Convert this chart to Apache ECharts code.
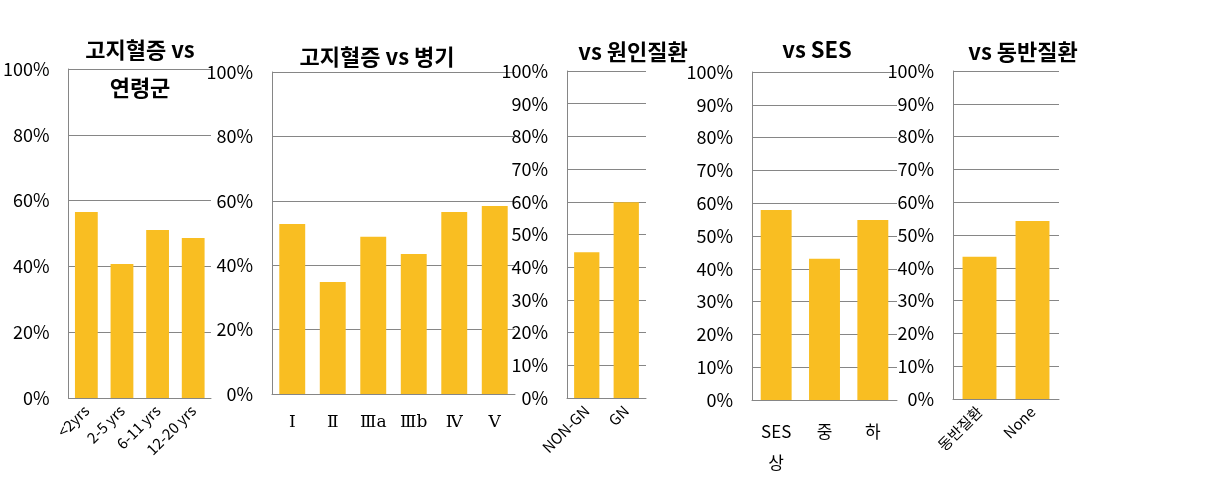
<!DOCTYPE html>
<html><head><meta charset="utf-8">
<script src="https://cdn.jsdelivr.net/npm/echarts@6/dist/echarts.min.js"></script>
<style>html,body{margin:0;padding:0;background:#fff}#c{width:1219px;height:487px}</style>
</head><body><div id="c"></div>
<script>
// Data
var ageCats = ['<2yrs', '2-5 yrs', '6-11 yrs', '12-20 yrs'];
var ageVals = [56.5, 40.7, 51.1, 48.6];
var stageCats = ['Ⅰ', 'Ⅱ', 'Ⅲa', 'Ⅲb', 'Ⅳ', 'Ⅴ'];
var stageVals = [52.8, 34.8, 48.8, 43.5, 56.5, 58.4];
var causeCats = ['NON-GN', 'GN'];
var causeVals = [44.6, 59.9];
var sesCats = ['SES 상', '중', '하'];
var sesVals = [57.9, 43.1, 54.9];
var comorbCats = ['동반질환', 'None'];
var comorbVals = [43.4, 54.3];
var titles = ['고지혈증 vs\n연령군', '고지혈증 vs 병기', 'vs 원인질환', 'vs SES', 'vs 동반질환'];

var FONT = '"Noto Sans CJK KR", "Noto Sans", sans-serif';
var BAR = '#F9BE22';
var GRID = '#868686';

var panels = [
  {cats: ageCats, vals: ageVals, grid: {left: 67, top: 69, width: 144, height: 329}, interval: 20, rotate: 45, fs: 15, tx: 140, ty: 50},
  {cats: stageCats, vals: stageVals, grid: {left: 272, top: 72, width: 243, height: 322}, interval: 20, rotate: 0, fs: 17, serif: true, tx: 377, ty: 57},
  {cats: causeCats, vals: causeVals, grid: {left: 567, top: 71, width: 79, height: 327}, interval: 10, rotate: 45, fs: 15, tx: 633, ty: 52},
  {cats: sesCats, vals: sesVals, grid: {left: 752, top: 72, width: 145, height: 328}, interval: 10, rotate: 0, fs: 17, wrap: true, tx: 817, ty: 50},
  {cats: comorbCats, vals: comorbVals, grid: {left: 953, top: 71, width: 106, height: 328}, interval: 10, rotate: 45, fs: 15, tx: 1023, ty: 52}
];

var option = {animation: false, grid: [], xAxis: [], yAxis: [], series: [], graphic: []};
panels.forEach(function (p, i) {
  option.grid.push(p.grid);
  option.xAxis.push({
    type: 'category', gridIndex: i, data: p.cats,
    axisLine: {lineStyle: {color: GRID, width: 1}},
    axisTick: {show: false},
    axisLabel: {
      interval: 0, rotate: p.rotate, color: '#000', fontSize: p.fs,
      fontFamily: p.serif ? '"DejaVu Serif", "Liberation Serif", serif' : FONT,
      margin: p.rotate ? 10 : (p.wrap ? 16 : 20),
      lineHeight: p.wrap ? 31 : undefined,
      formatter: p.wrap ? function (v) { return v.replace(' ', '\n'); } : undefined
    }
  });
  option.yAxis.push({
    type: 'value', gridIndex: i, min: 0, max: 100, interval: p.interval,
    axisLine: {show: true, lineStyle: {color: GRID, width: 1}},
    axisTick: {show: false},
    splitLine: {lineStyle: {color: GRID, width: 1}},
    axisLabel: {formatter: '{value}%', color: '#000', fontSize: 18, fontFamily: FONT, margin: 19}
  });
  option.series.push({
    type: 'bar', xAxisIndex: i, yAxisIndex: i, data: p.vals,
    barWidth: '64%', itemStyle: {color: BAR}
  });
  var lines = titles[i].split('\n');
  lines.forEach(function (t, k) {
    option.graphic.push({
      type: 'text', x: p.tx, y: p.ty + k * 38, z: 100,
      style: {text: t, fill: '#000', font: 'bold 22px ' + FONT, textAlign: 'center', textVerticalAlign: 'middle'}
    });
  });
});

var chart = echarts.init(document.getElementById('c'));
chart.setOption(option);
</script>
</body></html>
